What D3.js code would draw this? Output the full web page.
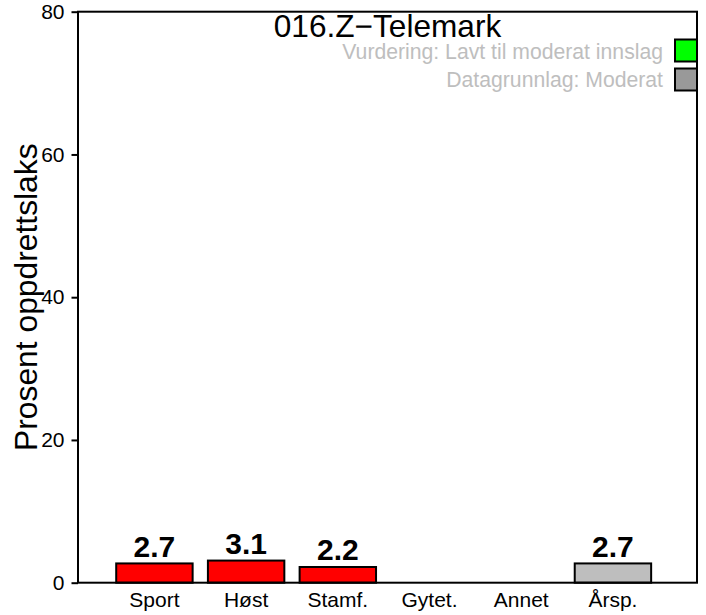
<!DOCTYPE html>
<html>
<head>
<meta charset="utf-8">
<script src="https://cdn.jsdelivr.net/npm/d3@7"></script>
<style>
  body { margin: 0; background: #fff; }
  svg { display: block; font-family: "Liberation Sans", Arial, sans-serif; }
</style>
</head>
<body>
<div id="graphic"></div>
<script>
var categories = ["Sport", "Høst", "Stamf.", "Gytet.", "Annet", "Årsp."];
var values = [2.7, 3.1, 2.2, null, null, 2.7];
var barColors = ["#FF0000", "#FF0000", "#FF0000", "#FF0000", "#FF0000", "#BEBEBE"];
var yTicks = [0, 20, 40, 60, 80];
var title = "016.Z\u2212Telemark";
var legendLabels = ["Vurdering: Lavt til moderat innslag", "Datagrunnlag: Moderat"];
var legendColors = ["#00FF00", "#999999"];

var width = 706, height = 615;
var margin = {top: 11.7, right: 9, bottom: 32.3, left: 78};

var svg = d3.select("#graphic").append("svg")
  .attr("width", width)
  .attr("height", height);

var x = d3.scaleLinear().domain([-0.3, 7.8]).range([margin.left, width - margin.right]);
var y = d3.scaleLinear().domain([0, 80]).range([height - margin.bottom, margin.top]);

var data = categories.map(function(c, i) {
  return {name: c, value: values[i], color: barColors[i], left: 0.2 + i * 1.2};
});

// bars
svg.append("g").selectAll("rect")
  .data(data.filter(function(d) { return d.value != null; }))
  .enter().append("rect")
  .attr("x", function(d) { return x(d.left); })
  .attr("width", function(d) { return x(d.left + 1) - x(d.left); })
  .attr("y", function(d) { return y(d.value); })
  .attr("height", function(d) { return y(0) - y(d.value); })
  .attr("fill", function(d) { return d.color; })
  .attr("stroke", "#000")
  .attr("stroke-width", 2);

// value labels
svg.append("g").selectAll("text")
  .data(data.filter(function(d) { return d.value != null; }))
  .enter().append("text")
  .attr("x", function(d) { return x(d.left + 0.5); })
  .attr("y", function(d) { return y(d.value) - 6.5; })
  .attr("text-anchor", "middle")
  .attr("font-size", "30px")
  .attr("font-weight", "bold")
  .text(function(d) { return d.value.toFixed(1); });

// category labels
svg.append("g").selectAll("text")
  .data(data)
  .enter().append("text")
  .attr("x", function(d) { return x(d.left + 0.5); })
  .attr("y", 606.5)
  .attr("text-anchor", "middle")
  .attr("font-size", "21px")
  .text(function(d) { return d.name; });

// y axis
var yAxis = svg.append("g")
  .attr("transform", "translate(" + margin.left + ",0)")
  .call(d3.axisLeft(y).tickValues(yTicks).tickSize(6.5).tickPadding(7).tickSizeOuter(0));
yAxis.select(".domain").remove();
yAxis.selectAll(".tick line").attr("stroke", "#000").attr("stroke-width", 2);
yAxis.selectAll(".tick text")
  .attr("font-size", "21px")
  .attr("font-family", "Liberation Sans, Arial, sans-serif")
  .attr("fill", "#000");

// legend boxes (clipped at plot edge)
svg.append("clipPath").attr("id", "plotclip")
  .append("rect")
  .attr("x", margin.left).attr("y", margin.top)
  .attr("width", width - margin.right - margin.left)
  .attr("height", height - margin.bottom - margin.top);

var legendY = [39.5, 68.5];
svg.append("g").attr("clip-path", "url(#plotclip)")
  .selectAll("rect")
  .data(legendColors)
  .enter().append("rect")
  .attr("x", 675)
  .attr("y", function(d, i) { return legendY[i]; })
  .attr("width", 30)
  .attr("height", 22)
  .attr("fill", function(d) { return d; })
  .attr("stroke", "#000")
  .attr("stroke-width", 2);

svg.append("g").selectAll("text")
  .data(legendLabels)
  .enter().append("text")
  .attr("x", 663)
  .attr("y", function(d, i) { return [59.3, 86.7][i]; })
  .attr("text-anchor", "end")
  .attr("font-size", "21.2px")
  .attr("fill", "#BEBEBE")
  .text(function(d) { return d; });

// plot frame
svg.append("rect")
  .attr("x", margin.left).attr("y", margin.top)
  .attr("width", width - margin.right - margin.left)
  .attr("height", height - margin.bottom - margin.top)
  .attr("fill", "none")
  .attr("stroke", "#000")
  .attr("stroke-width", 2);

// title
svg.append("text")
  .attr("x", (margin.left + width - margin.right) / 2)
  .attr("y", 36.7)
  .attr("text-anchor", "middle")
  .attr("font-size", "31.6px")
  .text(title);

// y title
svg.append("text")
  .attr("transform", "translate(37," + ((margin.top + height - margin.bottom) / 2) + ") rotate(-90)")
  .attr("text-anchor", "middle")
  .attr("font-size", "31.8px")
  .text("Prosent oppdrettslaks");
</script>
</body>
</html>
